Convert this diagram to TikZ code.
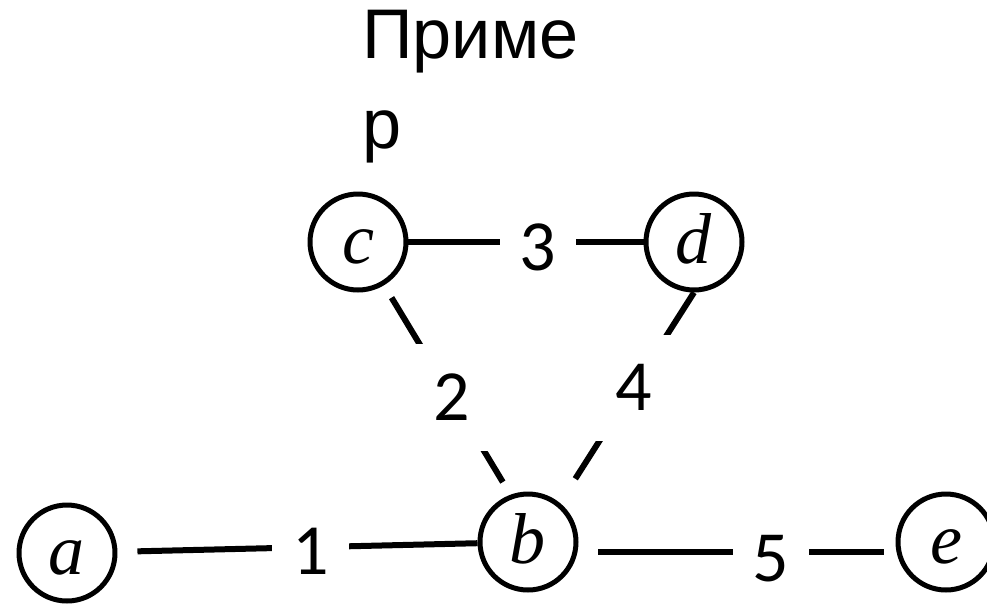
\documentclass[tikz,border=0pt]{standalone}
\usepackage{fontspec}
\usepackage{xcolor}
\usepackage{tikz}
\usetikzlibrary{positioning,calc}
\setmainfont{Liberation Serif}
\newfontfamily\headfont{Liberation Sans}
\newfontfamily\weightfont{Carlito}
\definecolor{grInk}{HTML}{000000}
\tikzset{
  % Vertex circle, letters share one baseline
  vnode/.style={circle,draw=grInk,line width=0.1cm,
    minimum size=1.92cm,inner sep=0pt,
    text height=0.84cm,text depth=0pt,
    font=\fontsize{41}{44}\selectfont\itshape,text=grInk},
  % Edge weight (white box cuts a gap in the line)
  wlbl/.style={rectangle,fill=white,
    inner xsep=0.4cm,inner ysep=0.6cm,
    font=\weightfont\fontsize{41}{44}\selectfont,text=grInk},
  % Edge line
  edg/.style={line width=0.12cm,color=grInk},
  % Heading
  head/.style={inner sep=0pt,align=left,
    font=\headfont\fontsize{40}{51}\selectfont,text=grInk},
}
\begin{document}
\begin{tikzpicture}[x=0.02cm,y=-0.02cm]
  \useasboundingbox (0,0) rectangle (987,603);

  %% --- HEADING ---
  \node[head,anchor=north west] (title) at (362,10) {Приме\\р};

  %% --- VERTICES ---
  \node[vnode] (a) at (67,553) {a};
  \node[vnode] (b) at (528,542) {b};
  \node[vnode] (c) at (358,242) {c};
  \node[vnode] (d) at (694,242) {d};
  \node[vnode] (e) at (946,542) {e};

  %% --- WEIGHTED EDGES ---
  \draw[edg,shorten <=0.4cm] (a)
    -- node[wlbl,pos=0.536,yshift=-0.08cm] (w1) {1} (b);
  \draw[edg,shorten <=1.3cm,shorten >=1.4cm] (c.center)
    -- node[wlbl,pos=0.518] (w2) {2} ([xshift=0.22cm]b.center);
  \draw[edg] (c)
    -- node[wlbl,pos=0.551,yshift=-0.11cm] (w3) {3} (d);
  \draw[edg,shorten >=1.5cm] (d.south)
    -- node[wlbl,pos=0.382] (w4) {4} ([xshift=0.14cm]b.center);
  \draw[edg,shorten <=0.4cm,shorten >=0.24cm] ([yshift=-0.2cm]b.east)
    -- node[wlbl,pos=0.608,yshift=-0.14cm] (w5) {5} ([yshift=-0.2cm]e.west);
\end{tikzpicture}
\end{document}
